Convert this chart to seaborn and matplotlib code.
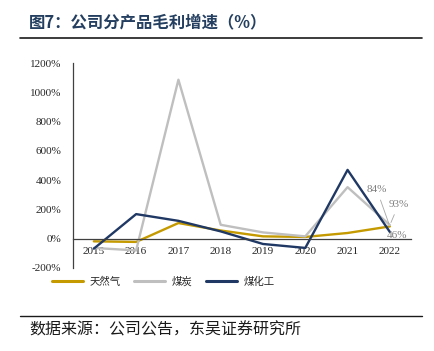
import pandas as pd
import numpy as np
import matplotlib
matplotlib.use('Agg')
import matplotlib.pyplot as plt
import seaborn as sns

years = ['2015', '2016', '2017', '2018', '2019', '2020', '2021', '2022']
gas = [-18, -22, 107, 56, 16, 12, 39, 84]
coal = [-63, -80, 1086, 95, 43, 16, 352, 93]
coal_chem = [-68, 168, 122, 50, -36, -63, 470, 46]
series_names = ['天然气', '煤炭', '煤化工']
colors = ['#C49A00', '#BFBFBF', '#1F3864']

sns.set_style('white')
plt.rcParams['font.family'] = ['Noto Sans CJK SC', 'DejaVu Sans']
plt.rcParams['axes.unicode_minus'] = False

df = pd.DataFrame({'年份': years, '天然气': gas, '煤炭': coal, '煤化工': coal_chem})
df['x'] = np.arange(len(years))
long_df = df.melt(id_vars=['年份', 'x'], value_vars=series_names, var_name='产品', value_name='增速')

fig = plt.figure(figsize=(4.34, 3.51), dpi=100)
ax = fig.add_axes([0.1675, 0.2365, 0.7795, 0.584])
sns.lineplot(data=long_df, x='x', y='增速', hue='产品', hue_order=series_names,
             palette=colors, linewidth=1.7, ax=ax, legend=False)

ax.set_xlim(-0.5, 7.5)
ax.set_ylim(-200, 1200)
ax.set_xlabel('')
ax.set_ylabel('')

# 坐标轴
for s in ['top', 'right']:
    ax.spines[s].set_visible(False)
ax.spines['bottom'].set_position(('data', 0))
ax.spines['bottom'].set_color('#404040')
ax.spines['left'].set_color('#404040')
ax.spines['bottom'].set_linewidth(0.9)
ax.spines['left'].set_linewidth(0.9)

ax.set_yticks(range(-200, 1201, 200))
ax.set_yticklabels([f'{v}%' for v in range(-200, 1201, 200)],
                   family='Liberation Serif', fontsize=8)
ax.tick_params(axis='y', direction='out', length=3, color='#404040', pad=5)

ax.set_xticks(range(len(years)))
ax.set_xticklabels(years, family='Liberation Serif', fontsize=8)
ax.set_xticks(np.arange(0.5, 8, 1), minor=True)
ax.tick_params(axis='x', which='major', length=0, pad=6)
ax.tick_params(axis='x', which='minor', direction='out', length=3, color='#404040')

# 数据标签
lab_kw = dict(color='#7F7F7F', fontsize=8, family='Liberation Serif')
ax.annotate('84%', xy=(7, gas[-1]), xytext=(6.45, 335), ha='left', va='center',
            arrowprops=dict(arrowstyle='-', color='#A6A6A6', lw=0.6), **lab_kw)
ax.annotate('93%', xy=(7, coal[-1]), xytext=(6.97, 235), ha='left', va='center',
            arrowprops=dict(arrowstyle='-', color='#A6A6A6', lw=0.6), **lab_kw)
ax.text(6.93, 20, '46%', ha='left', va='center', **lab_kw)

# 图例
handles = [plt.Line2D([], [], color=c, lw=2.2) for c in colors]
fig.legend(handles, series_names, loc='center', bbox_to_anchor=(0.376, 0.197),
           ncol=3, frameon=False, fontsize=7.5, handlelength=3.0,
           columnspacing=1.3, handletextpad=0.6)

# 标题与来源
fig.text(0.067, 0.937, '图7：公司分产品毛利增速（%）', fontsize=11.8, fontweight='bold',
         color='#243F60', va='center', ha='left')
fig.add_artist(plt.Line2D([0.046, 0.972], [0.893, 0.893], color='#1A1A1A', lw=1.2,
                          transform=fig.transFigure))
fig.add_artist(plt.Line2D([0.046, 0.972], [0.1, 0.1], color='#1A1A1A', lw=1.0,
                          transform=fig.transFigure))
fig.text(0.067, 0.06, '数据来源：公司公告，东吴证券研究所', fontsize=11.5,
         color='#1A1A1A', va='center', ha='left')

fig.savefig('out.png', dpi=100)
